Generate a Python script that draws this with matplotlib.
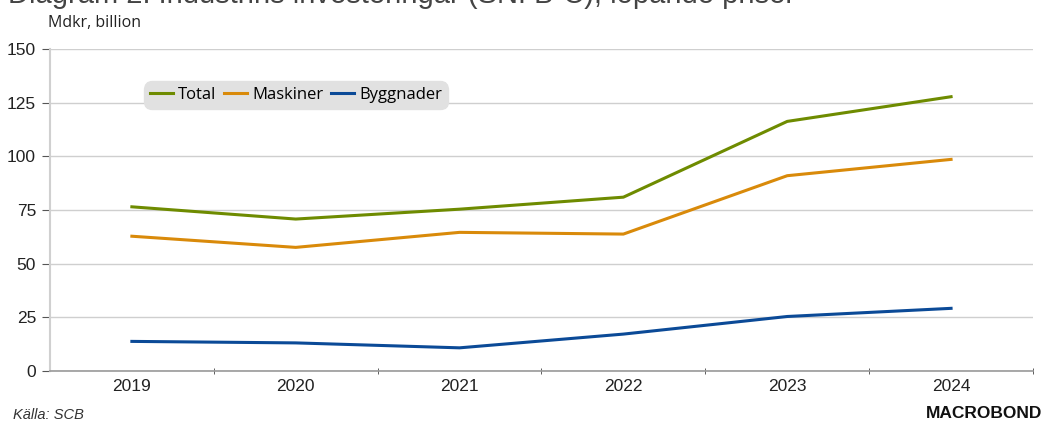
import matplotlib.pyplot as plt
import numpy as np

years = [2019, 2020, 2021, 2022, 2023, 2024]
total = [76.5, 70.8, 75.4, 81.0, 116.3, 127.8]
maskiner = [62.8, 57.6, 64.6, 63.8, 91.0, 98.6]
byggnader = [13.8, 13.1, 10.8, 17.2, 25.4, 29.2]

plt.rcParams['font.family'] = ['Liberation Sans', 'DejaVu Sans']

fig = plt.figure(figsize=(10.45, 4.23), dpi=100)
ax = fig.add_axes([0.0478, 0.1229, 0.9407, 0.7611])

ax.plot(years, total, color='#6e8b00', lw=2.2, label='Total')
ax.plot(years, maskiner, color='#d98a0a', lw=2.2, label='Maskiner')
ax.plot(years, byggnader, color='#0b4a97', lw=2.2, label='Byggnader')

ax.set_xlim(2018.5, 2024.5)
ax.set_ylim(0, 150)
ax.set_yticks(np.arange(0, 151, 25))
ax.set_xticks(years)
ax.set_xticks(np.arange(2019.5, 2024.6, 1), minor=True)
ax.tick_params(axis='x', which='major', length=0, pad=6, labelsize=12.5, colors='#222222')
ax.tick_params(axis='x', which='minor', length=5, direction='inout', color='#444444')
ax.tick_params(axis='y', length=6, direction='out', color='#555555', labelsize=12.5, pad=4,
               labelcolor='#222222')
ax.grid(axis='y', color='#cfcfcf', lw=1)
ax.set_axisbelow(True)
for s in ['top', 'right']:
    ax.spines[s].set_visible(False)
ax.spines['left'].set_color('#d0d0d0')
ax.spines['left'].set_linewidth(1.5)
ax.spines['bottom'].set_color('#999999')
ax.spines['bottom'].set_linewidth(1.2)

leg = ax.legend(loc='upper left', bbox_to_anchor=(0.089, 0.92), ncol=3, frameon=True,
                handlelength=1.4, handletextpad=0.3, columnspacing=0.45,
                borderpad=0.25, fancybox=True, prop={'family': ['Open Sans', 'DejaVu Sans'], 'size': 12})
frame = leg.get_frame()
frame.set_facecolor('#e1e1e1')
frame.set_edgecolor('#e1e1e1')
frame.set_alpha(1)
frame.set_boxstyle('round,pad=0.1,rounding_size=0.5')

fig.text(0.008, 1.012, 'Diagram 2. Industrins investeringar (SNI B-C), löpande priser',
         fontsize=21, va='center', ha='left', color='#444444')
fig.text(0.046, 0.945, 'Mdkr, billion', fontsize=11.5, va='center', ha='left', color='#222222',
         family=['Open Sans', 'DejaVu Sans'])
fig.text(0.012, 0.02, 'Källa: SCB', fontsize=10.5, style='italic', va='center', ha='left',
         color='#333333')
fig.text(0.997, 0.022, 'MACROBOND', fontsize=12.5, weight='bold', va='center', ha='right',
         color='#111111')

fig.savefig('out.png', dpi=100)
